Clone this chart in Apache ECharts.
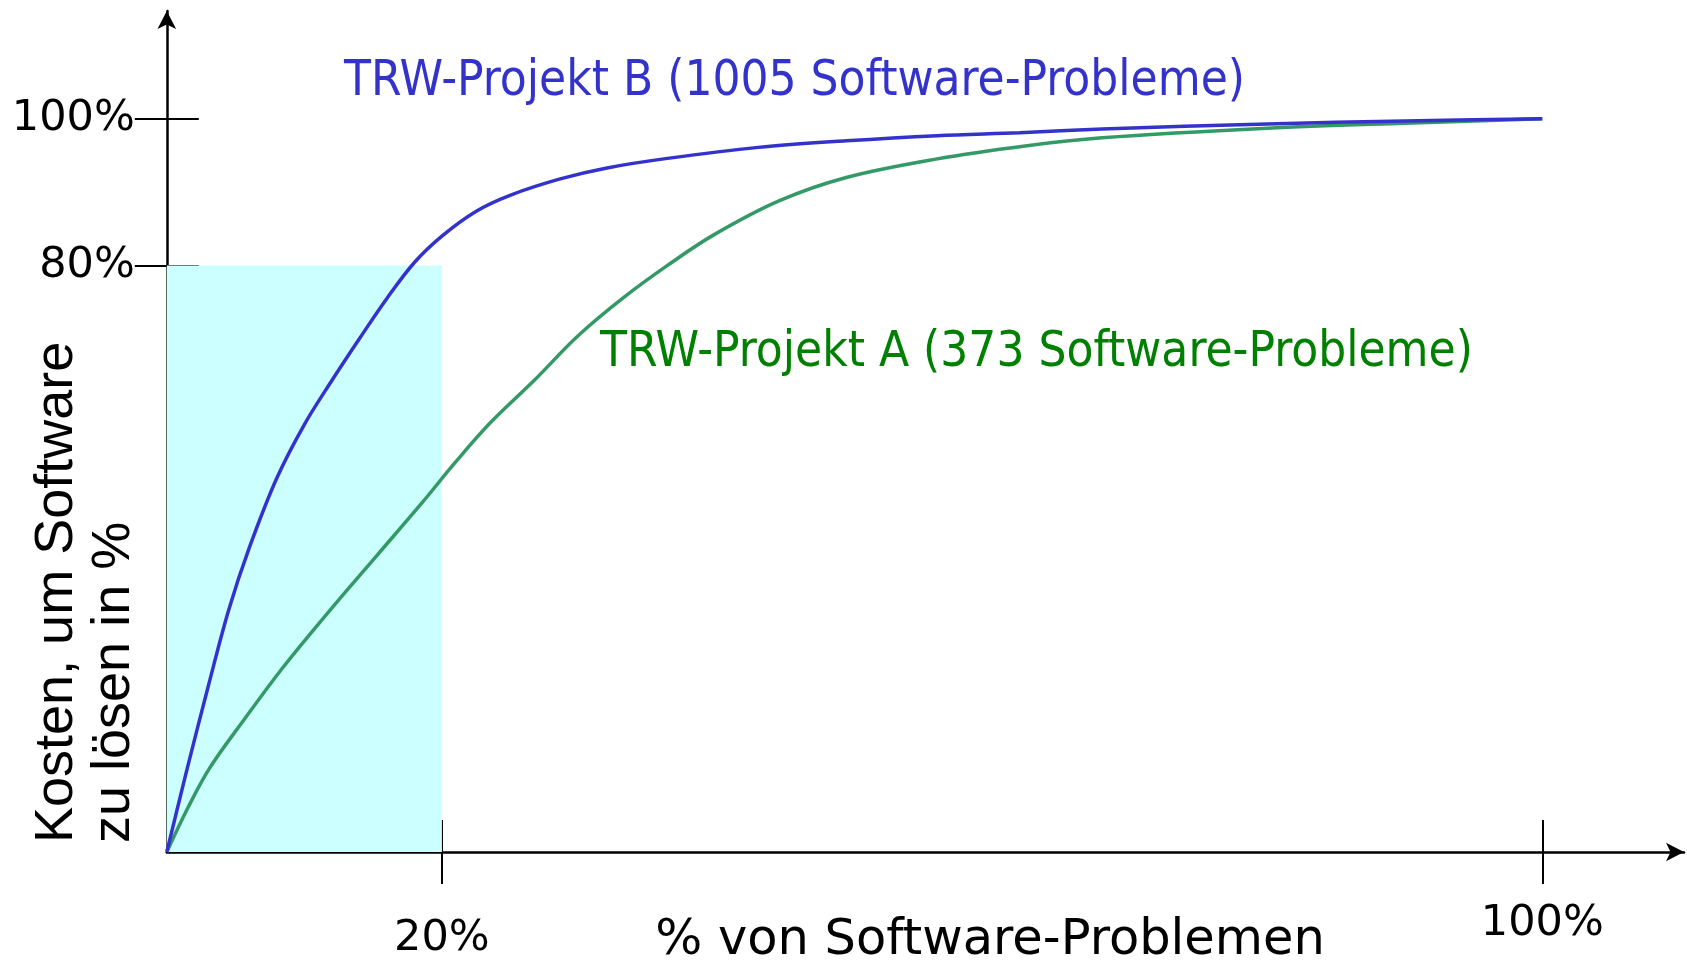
<!DOCTYPE html>
<html>
<head>
<meta charset="utf-8">
<script src="https://cdn.jsdelivr.net/npm/echarts@6/dist/echarts.min.js"></script>
<style>
  html, body { margin: 0; padding: 0; background: #fff; }
  #chart { width: 1687px; height: 960px; }
</style>
</head>
<body>
<div id="chart"></div>
<script>
// % of problems (x) vs. cumulative cost in % (y)
var projectB = [[0,0],[1.5,11.5],[3,22.5],[4.5,33],[6,41.5],[8,51],[10,58.3],[12,64.3],[14,70],[16,75.5],
  [18,80.4],[20,84],[22.5,87.4],[25,89.6],[28.6,91.8],[32,93.3],[36.4,94.6],[43,96.1],[49.4,97],
  [56,97.7],[62,98.1],[68,98.6],[80,99.3],[90,99.7],[100,100]];
var projectA = [[0,0],[1.5,5.9],[3.1,11.4],[5.6,18],[8.5,25.3],[12.1,33.5],[15.3,40.5],[18.5,47.5],[21,53.2],
  [23.5,58.5],[26.7,64.3],[29.9,70.4],[33.2,75.6],[36.4,80],[39.7,84.1],[44.5,88.8],[49.4,92],[55.9,94.5],
  [62.4,96.3],[68,97.4],[80,98.7],[90,99.4],[100,100]];
var xTicks = [20, 100];
var yTicks = [80, 100];
var paretoBox = [20, 80];

var labelB = 'TRW-Projekt B (1005 Software-Probleme)';
var labelA = 'TRW-Projekt A (373 Software-Probleme)';
var xTitle = '% von Software-Problemen';
var yTitle = 'Kosten, um Software\nzu lösen in %';

var tickFont = 'DejaVu Sans';
var xMax = 110.3, yMax = 114.7;

var myChart = echarts.init(document.getElementById('chart'));

var option = {
    animation: false,
    grid: { left: 166.8, right: 3, top: 11, bottom: 104.7 },
    xAxis: [
        {
            type: 'value', min: 0, max: xMax,
            splitLine: { show: false },
            axisLine: { show: true, symbol: ['none', 'arrow'], symbolSize: [14, 18], lineStyle: { color: '#000', width: 2.5 } },
            axisTick: { show: true, customValues: xTicks, length: 32, lineStyle: { color: '#000', width: 2 } },
            axisLabel: {
                customValues: xTicks, margin: 50,
                formatter: function (v) { return v == 20 ? '{lo|20%}' : '{hi|100%}'; },
                rich: {
                    lo: { fontFamily: tickFont, fontSize: 43, color: '#000', padding: [15, 0, 0, 0] },
                    hi: { fontFamily: tickFont, fontSize: 43, color: '#000' }
                }
            }
        },
        {
            type: 'value', min: 0, max: xMax, position: 'bottom',
            splitLine: { show: false },
            axisLine: { show: false },
            axisTick: { show: true, inside: true, customValues: xTicks, length: 32, lineStyle: { color: '#000', width: 2 } },
            axisLabel: { show: false }
        }
    ],
    yAxis: [
        {
            type: 'value', min: 0, max: yMax,
            splitLine: { show: false },
            axisLine: { show: true, symbol: ['none', 'arrow'], symbolSize: [14, 18], lineStyle: { color: '#000', width: 2.5 } },
            axisTick: { show: true, customValues: yTicks, length: 32, lineStyle: { color: '#000', width: 2 } },
            axisLabel: {
                customValues: yTicks, margin: 32,
                fontFamily: tickFont, fontSize: 43, color: '#000',
                formatter: function (v) { return v + '%'; }
            }
        },
        {
            type: 'value', min: 0, max: yMax, position: 'left',
            splitLine: { show: false },
            axisLine: { show: false },
            axisTick: { show: true, inside: true, customValues: yTicks, length: 32, lineStyle: { color: '#000', width: 2 } },
            axisLabel: { show: false }
        }
    ],
    series: [
        {
            name: labelA, type: 'line', data: projectA, symbol: 'none',
            smooth: 0.35,
            lineStyle: { color: '#339966', width: 3.5 },
            markArea: {
                silent: true,
                itemStyle: { color: '#ccffff', opacity: 1 },
                data: [[{ coord: [0, 0] }, { coord: paretoBox }]]
            },
            z: 3
        },
        {
            name: labelB, type: 'line', data: projectB, symbol: 'none',
            smooth: 0.35,
            lineStyle: { color: '#3333cc', width: 3.5 },
            z: 4
        }
    ],
    graphic: [
        { type: 'text', x: 344, y: 82, style: { text: labelB, fontFamily: 'DejaVu Sans Condensed', fontSize: 49, fill: '#3333cc', align: 'left', verticalAlign: 'middle' } },
        { type: 'text', x: 600, y: 353, style: { text: labelA, fontFamily: 'DejaVu Sans Condensed', fontSize: 49, fill: '#008000', align: 'left', verticalAlign: 'middle' } },
        { type: 'text', x: 990, y: 941, style: { text: xTitle, fontFamily: 'DejaVu Sans', fontSize: 49.5, fill: '#000', align: 'center', verticalAlign: 'middle' } },
        { type: 'text', x: 86, y: 843, rotation: Math.PI / 2, style: { text: yTitle, fontFamily: 'Liberation Sans', fontSize: 54, lineHeight: 57, fill: '#000', align: 'left', verticalAlign: 'middle' } }
    ]
};

myChart.setOption(option);
</script>
</body>
</html>
